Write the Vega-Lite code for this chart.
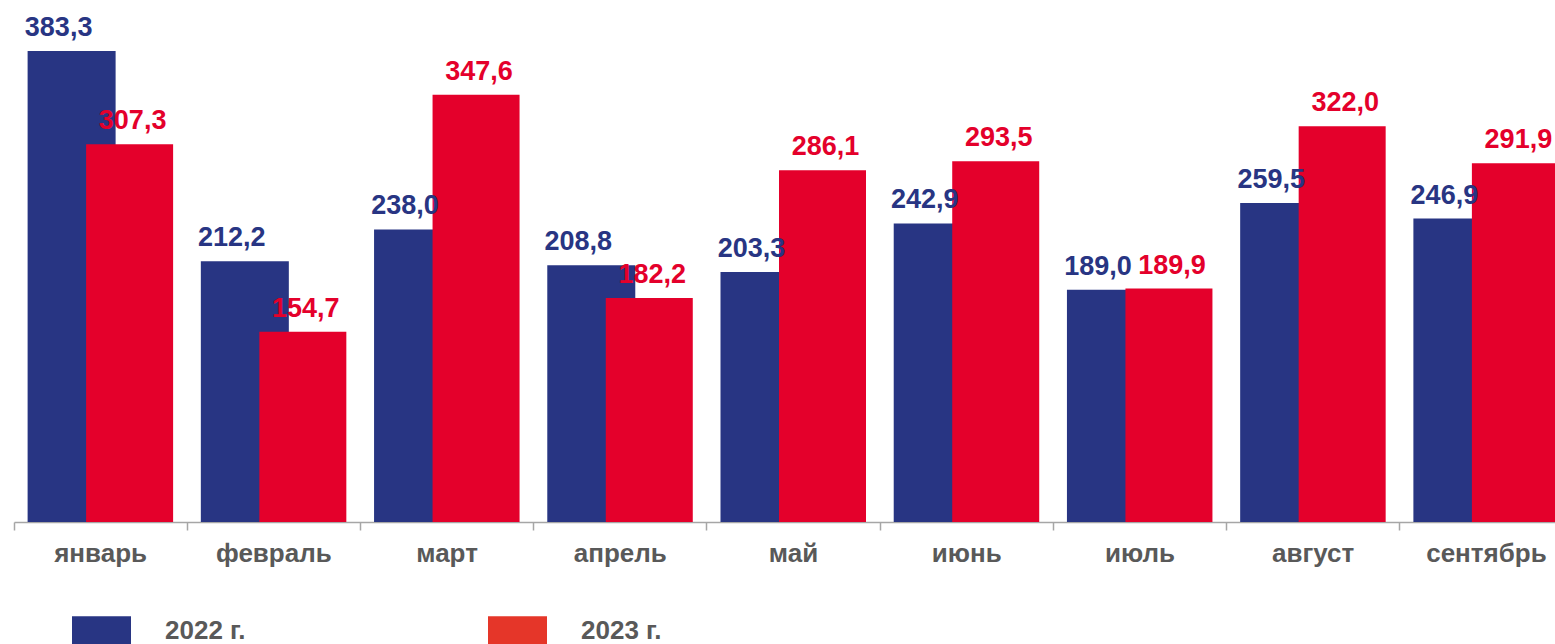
{
  "$schema": "https://vega.github.io/schema/vega-lite/v6.json",
  "autosize": "none",
  "width": 1559,
  "height": 522,
  "padding": {"left": 14, "top": 0, "right": 0, "bottom": 122},
  "background": "white",
  "config": {
    "view": {"stroke": null},
    "font": "Liberation Sans",
    "locale": {"number": {"decimal": ",", "thousands": " ", "grouping": [3], "currency": ["", ""]}}
  },
  "data": {"values": [
    {"month": "январь", "year": "2022 г.", "value": 383.3},
    {"month": "февраль", "year": "2022 г.", "value": 212.2},
    {"month": "март", "year": "2022 г.", "value": 238.0},
    {"month": "апрель", "year": "2022 г.", "value": 208.8},
    {"month": "май", "year": "2022 г.", "value": 203.3},
    {"month": "июнь", "year": "2022 г.", "value": 242.9},
    {"month": "июль", "year": "2022 г.", "value": 189.0},
    {"month": "август", "year": "2022 г.", "value": 259.5},
    {"month": "сентябрь", "year": "2022 г.", "value": 246.9},
    {"month": "январь", "year": "2023 г.", "value": 307.3},
    {"month": "февраль", "year": "2023 г.", "value": 154.7},
    {"month": "март", "year": "2023 г.", "value": 347.6},
    {"month": "апрель", "year": "2023 г.", "value": 182.2},
    {"month": "май", "year": "2023 г.", "value": 286.1},
    {"month": "июнь", "year": "2023 г.", "value": 293.5},
    {"month": "июль", "year": "2023 г.", "value": 189.9},
    {"month": "август", "year": "2023 г.", "value": 322.0},
    {"month": "сентябрь", "year": "2023 г.", "value": 291.9}
  ]},
  "encoding": {
    "x": {
      "field": "month", "type": "nominal", "sort": null,
      "scale": {"paddingInner": 0, "paddingOuter": 0},
      "axis": {
        "title": null, "bandPosition": 0,
        "labelAngle": 0, "labelFont": "Liberation Sans", "labelFontSize": 26,
        "labelFontWeight": "bold", "labelColor": "#595959", "labelPadding": 10,
        "domainColor": "#A6A6A6", "domainWidth": 1.5, "tickColor": "#A6A6A6",
        "tickSize": 8, "tickWidth": 1.5, "labelBound": false, "labelOverlap": false
      }
    },
    "y": {
      "field": "value", "type": "quantitative",
      "scale": {"domain": [0, 424.7], "nice": false},
      "axis": null
    }
  },
  "layer": [
    {
      "transform": [{"filter": "datum.year === '2022 г.'"}],
      "mark": {"type": "bar", "width": 88, "xOffset": -29, "color": "#283583"},
      "encoding": {
        "color": {
          "field": "year", "type": "nominal",
          "scale": {"domain": ["2022 г.", "2023 г."], "range": ["#283583", "#E53629"]},
          "legend": {
            "orient": "none", "legendX": 58, "legendY": 601, "direction": "horizontal",
            "title": null, "symbolType": "M-1,-0.5H1V0.5H-1Z", "symbolSize": 3481,
            "symbolStrokeWidth": 0, "labelFont": "Liberation Sans", "labelFontSize": 26,
            "labelFontWeight": "bold", "labelColor": "#595959", "labelOffset": 34,
            "columnPadding": 242, "symbolOpacity": 1, "labelLimit": 300
          }
        }
      }
    },
    {
      "transform": [{"filter": "datum.year === '2023 г.'"}],
      "mark": {"type": "bar", "width": 87, "xOffset": 29, "color": "#E4002B"}
    },
    {
      "transform": [{"filter": "datum.year === '2022 г.'"}],
      "mark": {"type": "text", "xOffset": -42, "dy": -15, "baseline": "alphabetic", "align": "center",
               "font": "Liberation Sans", "fontSize": 27, "fontWeight": "bold", "color": "#283583"},
      "encoding": {"text": {"field": "value", "type": "quantitative", "format": ".1f"}}
    },
    {
      "transform": [{"filter": "datum.year === '2023 г.'"}],
      "mark": {"type": "text", "xOffset": 32, "dy": -15, "baseline": "alphabetic", "align": "center",
               "font": "Liberation Sans", "fontSize": 27, "fontWeight": "bold", "color": "#E4002B"},
      "encoding": {"text": {"field": "value", "type": "quantitative", "format": ".1f"}}
    }
  ]
}
